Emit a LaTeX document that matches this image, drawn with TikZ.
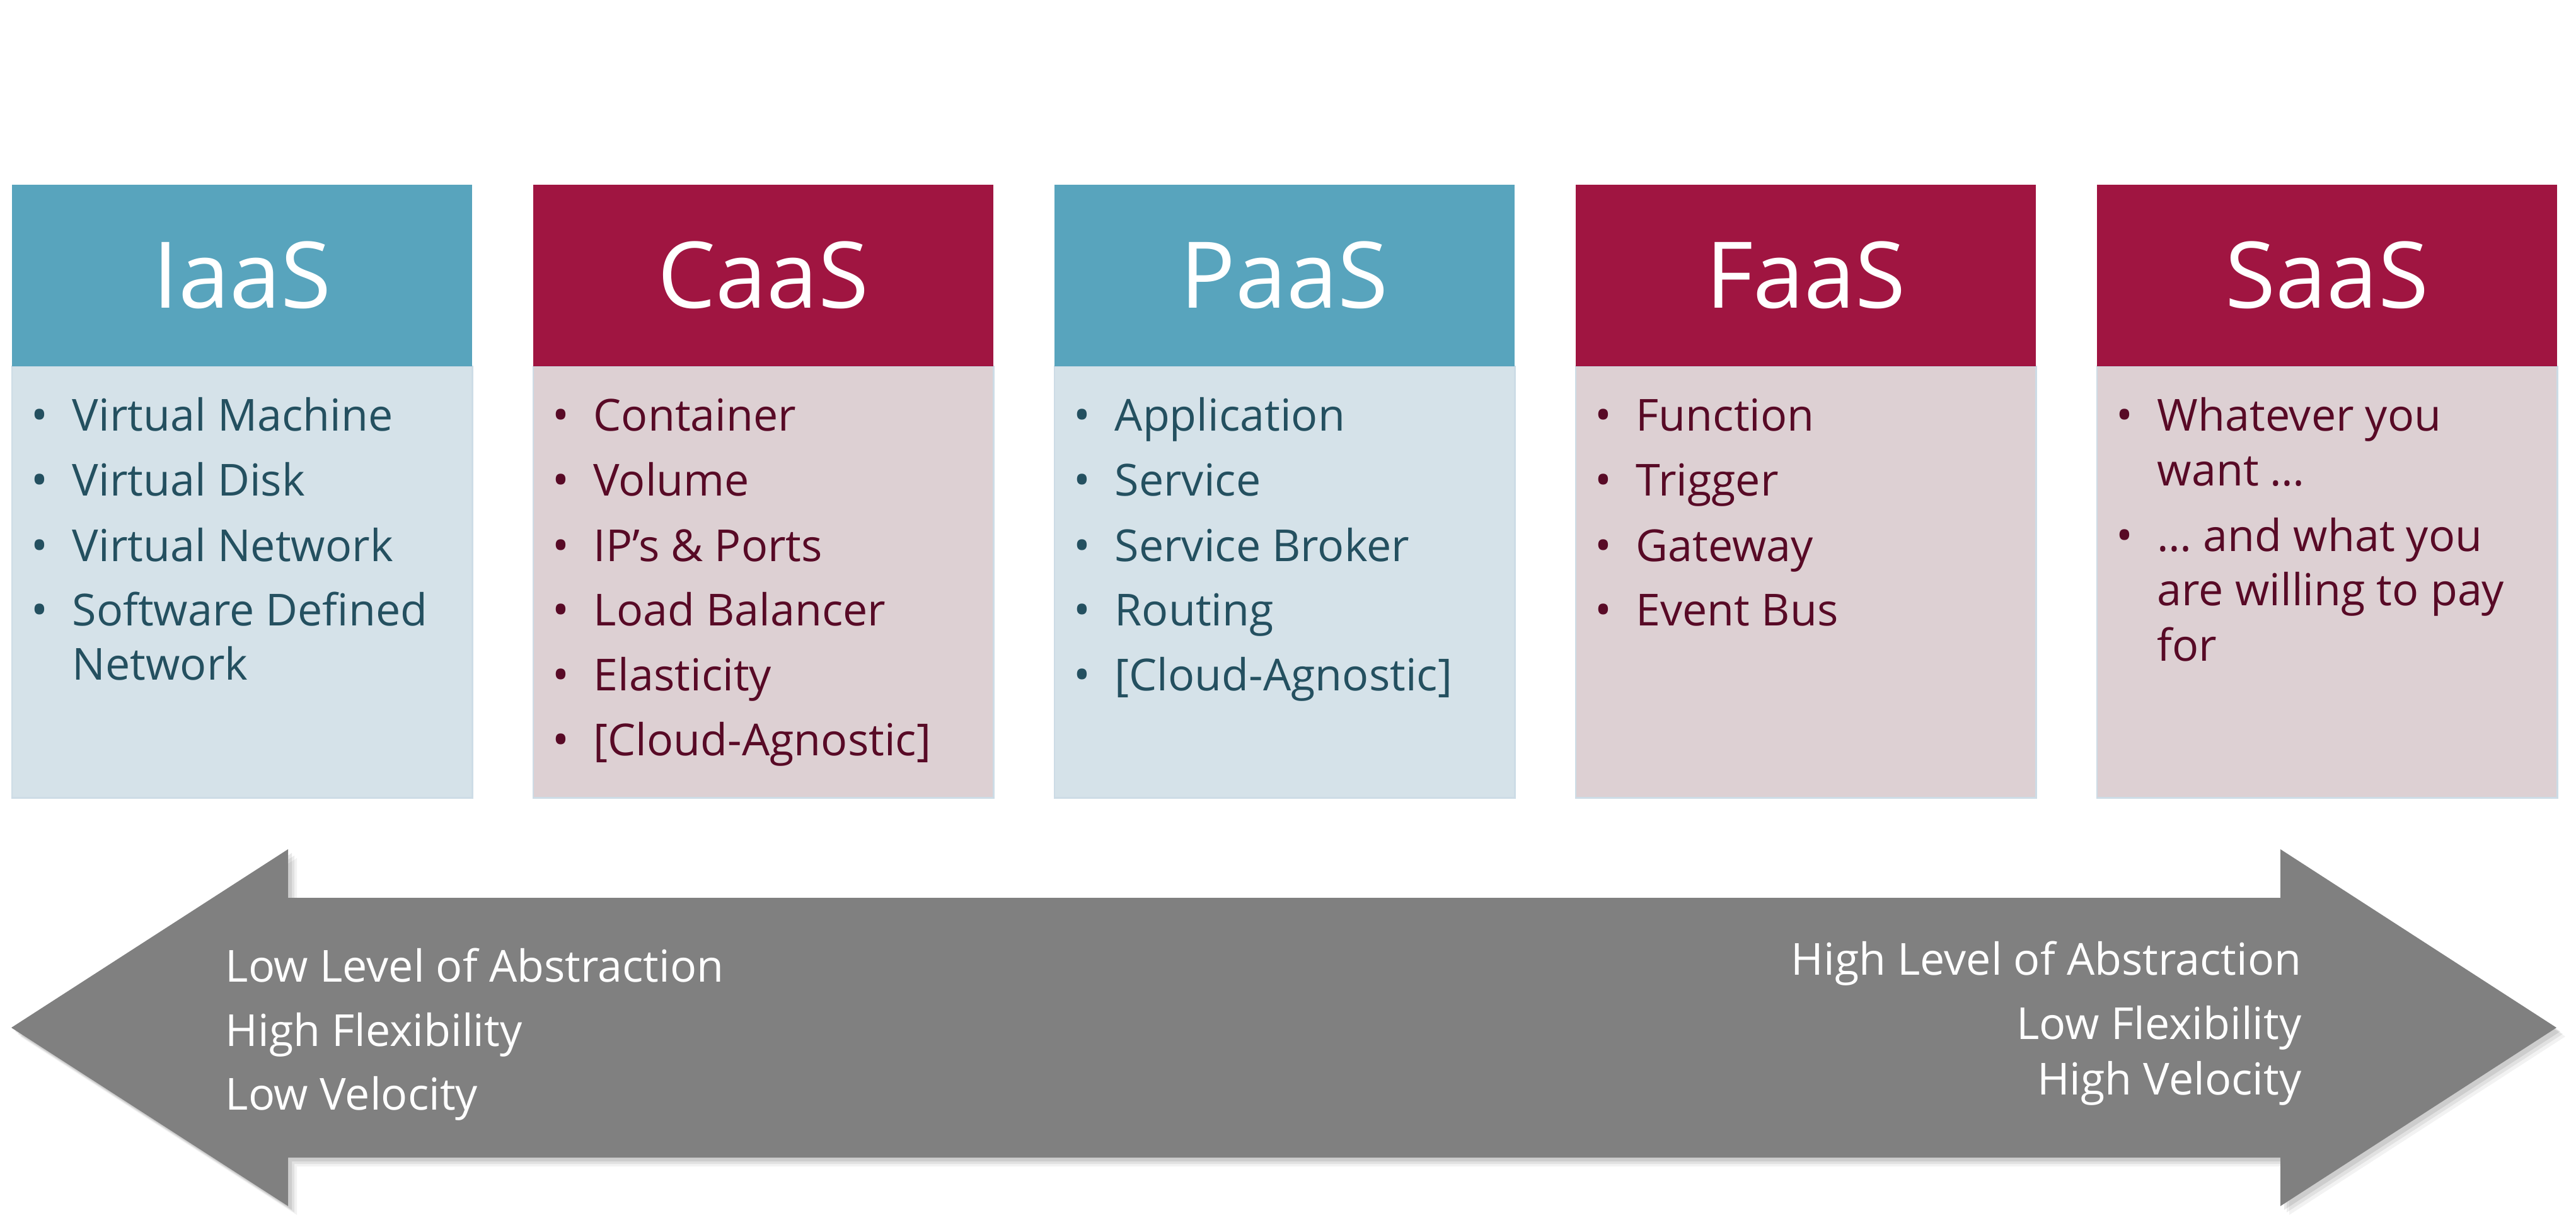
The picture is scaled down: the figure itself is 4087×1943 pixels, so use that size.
\documentclass[tikz,border=0pt]{standalone}
\usepackage{fontspec}
\setmainfont{Open Sans}
\definecolor{hdrBlue}{RGB}{88,164,189}
\definecolor{bodyBlue}{RGB}{213,226,233}
\definecolor{hdrRed}{RGB}{160,21,65}
\definecolor{bodyRed}{RGB}{221,208,211}
\definecolor{txtBlue}{RGB}{36,80,96}
\definecolor{txtRed}{RGB}{88,10,38}
\definecolor{arrowGray}{RGB}{128,128,128}
\definecolor{edgeCol}{RGB}{205,220,230}
\begin{document}
\begin{tikzpicture}[x=0.01cm,y=-0.01cm,
  hdr/.style={minimum width=7.3cm, minimum height=2.88cm, anchor=north west, inner sep=0pt, text=white, font=\fontsize{41.5}{41.5}\selectfont},
  body/.style={minimum width=7.3cm, minimum height=6.84cm, anchor=north west, inner sep=0pt, draw=edgeCol, line width=0.6pt},
  itm/.style={anchor=base west, inner sep=0pt, font=\fontsize{19.9}{19.9}\selectfont},
  bul/.style={anchor=base, inner sep=0pt, font=\fontsize{20.3}{20.3}\selectfont},
  arrtxt/.style={inner sep=0pt, text=white, font=\fontsize{19.9}{19.9}\selectfont}]
\useasboundingbox (0,0) rectangle (4087,1943);

% ---- columns ----
\node[body, fill=bodyBlue] (iaasB) at (18,580) {};
\node[hdr, fill=hdrBlue] (iaasH) at (18,292) {IaaS};
\node[body, fill=bodyRed] (caasB) at (845,580) {};
\node[hdr, fill=hdrRed] (caasH) at (845,292) {CaaS};
\node[body, fill=bodyBlue] (paasB) at (1672,580) {};
\node[hdr, fill=hdrBlue] (paasH) at (1672,292) {PaaS};
\node[body, fill=bodyRed] (faasB) at (2499,580) {};
\node[hdr, fill=hdrRed] (faasH) at (2499,292) {FaaS};
\node[body, fill=bodyRed] (saasB) at (3326,580) {};
\node[hdr, fill=hdrRed] (saasH) at (3326,292) {SaaS};

% ---- items ----
\foreach \L/\C/\list in {
  18/txtBlue/{684/1/Virtual Machine,787/1/Virtual Disk,890/1/Virtual Network,992/1/Software Defined,1078/0/Network},
  845/txtRed/{684/1/Container,787/1/Volume,890/1/IP’s \& Ports,992/1/Load Balancer,1095/1/Elasticity,1198/1/[Cloud-Agnostic]},
  1672/txtBlue/{684/1/Application,787/1/Service,890/1/Service Broker,992/1/Routing,1095/1/[Cloud-Agnostic]},
  2499/txtRed/{684/1/Function,787/1/Trigger,890/1/Gateway,992/1/Event Bus},
  3326/txtRed/{684/1/Whatever you,771/0/want …,875/1/… and what you,960/0/are willing to pay,1048/0/for}}
{
  \foreach \Y/\B/\T in \list {
    \node[itm, text=\C] (t-\L-\Y) at (\L+96,\Y) {\T};
    \ifnum\B=1
      \node[bul, text=\C] (b-\L-\Y) at (\L+45,\Y) {•};
    \fi
  }
}

% ---- arrow ----
\foreach \d/\o in {14/0.05,10/0.07,6/0.09}
  \fill[black, opacity=\o] (18+\d,1630+\d) -- (457+\d,1347+\d) -- (457+\d,1424+\d) -- (3618+\d,1424+\d) -- (3618+\d,1347+\d) -- (4056+\d,1630+\d) -- (3618+\d,1913+\d) -- (3618+\d,1836+\d) -- (457+\d,1836+\d) -- (457+\d,1913+\d) -- cycle;
\fill[arrowGray] (18,1630) -- (457,1347) -- (457,1424) -- (3618,1424) -- (3618,1347) -- (4056,1630) -- (3618,1913) -- (3618,1836) -- (457,1836) -- (457,1913) -- cycle;

\node[arrtxt, anchor=base west] (l1) at (357,1557) {Low Level of Abstraction};
\node[arrtxt, anchor=base west] (l2) at (357,1659) {High Flexibility};
\node[arrtxt, anchor=base west] (l3) at (357,1760) {Low Velocity};
\node[arrtxt, anchor=base east] (r1) at (3652,1546) {High Level of Abstraction};
\node[arrtxt, anchor=base east] (r2) at (3652,1648) {Low Flexibility};
\node[arrtxt, anchor=base east] (r3) at (3652,1736) {High Velocity};
\end{tikzpicture}
\end{document}
